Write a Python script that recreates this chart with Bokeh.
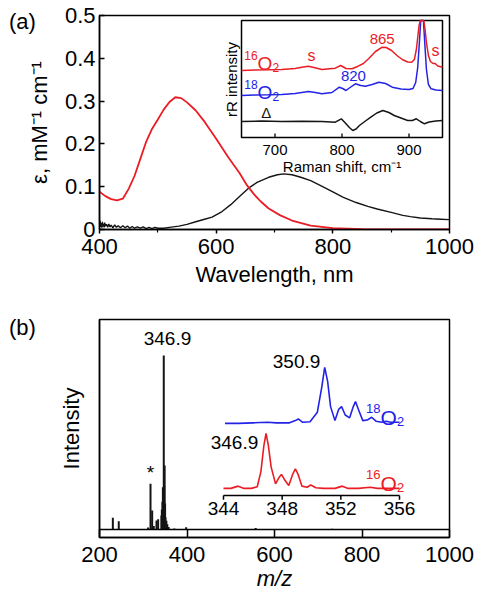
from bokeh.plotting import figure
from bokeh.models import Range1d, FixedTicker, Span, Div
from bokeh.layouts import column, row
from bokeh.embed import file_html
from bokeh.resources import INLINE
from bokeh.core.properties import value
import math

FONT = "Liberation Sans"
RED = "#ea1c24"
BLUE = "#2323e6"
BLACK = "#151515"

# ---------------- panel (a): absorption spectra ----------------
wl_red = [400, 410, 420, 430, 440, 450, 460, 470, 480, 490, 500, 510, 520, 530, 540, 550,
          565, 580, 600, 621, 640, 653, 665, 676, 690, 710, 730, 762, 800, 850, 900, 1000]
eps_red = [0.088, 0.078, 0.071, 0.068, 0.072, 0.095, 0.125, 0.165, 0.205, 0.235, 0.257, 0.280,
           0.298, 0.309, 0.307, 0.297, 0.278, 0.252, 0.212, 0.168, 0.132, 0.103, 0.082, 0.066,
           0.049, 0.033, 0.021, 0.009, 0.003, 0.001, 0.0, 0.0]
wl_black = [400, 401, 402, 403, 404, 405, 406, 407, 408, 409, 410, 412, 414, 416, 418, 420, 423,
            426, 429, 432, 436, 440, 444, 448, 452, 456, 460, 465, 470, 475, 480, 485, 490, 495,
            500, 510, 520, 536, 550, 565, 580, 593, 610, 625, 640, 655, 670, 690, 705, 716, 730,
            745, 762, 780, 800, 818, 840, 860, 876, 900, 920, 933, 950, 970, 985, 1000]
eps_black = [0.010, 0.021, 0.006, 0.015, 0.004, 0.018, 0.007, 0.013, 0.005, 0.016, 0.008, 0.012,
             0.005, 0.013, 0.006, 0.010, 0.004, 0.011, 0.005, 0.009, 0.004, 0.009, 0.004, 0.008,
             0.003, 0.007, 0.003, 0.006, 0.003, 0.006, 0.002, 0.005, 0.002, 0.005, 0.003, 0.003,
             0.005, 0.008, 0.012, 0.018, 0.024, 0.029, 0.042, 0.058, 0.077, 0.096, 0.110, 0.122,
             0.128, 0.130, 0.128, 0.122, 0.114, 0.102, 0.088, 0.075, 0.063, 0.054, 0.048, 0.040,
             0.033, 0.030, 0.027, 0.025, 0.024, 0.023]
a_xticks = [400, 600, 800, 1000]
a_xminor = [500, 700, 900]
a_yticks = [0, 0.1, 0.2, 0.3, 0.4, 0.5]

# inset (a): resonance Raman
ram16_x = [650, 670, 690, 710, 730, 742, 750, 758, 770, 790, 798, 806, 815, 824, 832, 840, 850,
           860, 866, 874, 882, 890, 898, 904, 908, 911, 913, 915, 917, 922, 924, 926, 929, 932,
           936, 939, 943, 950]
ram16_y = [67, 67.5, 67.7, 68, 69, 70.5, 71.3, 70, 68, 69.3, 72, 69, 68.7, 71.3, 74, 79, 86,
           90.3, 90, 87, 82, 78, 75.5, 75.3, 78, 88, 100, 112, 117, 117, 108, 95, 82, 76, 74,
           74, 71.5, 70.3]
ram18_x = [650, 670, 690, 710, 730, 750, 760, 770, 785, 796, 801, 806, 812, 820, 828, 835, 845,
           855, 865, 875, 888, 900, 906, 910, 913, 915.5, 917.5, 921.5, 923.5, 926, 929, 933,
           940, 950]
ram18_y = [42, 42.5, 42.7, 43, 44, 46, 45, 43.7, 45, 50.3, 49, 47, 50, 53.7, 52, 51.3, 53, 55.3,
           54, 50.3, 48.5, 48, 49, 55, 70, 95, 117, 117, 95, 68, 53, 48.7, 47.5, 47]
ramd_x = [650, 680, 710, 740, 770, 790, 799, 806, 811, 816, 821, 826, 835, 843, 852, 861, 870,
          878, 888, 898, 905, 911, 917, 923, 930, 940, 950]
ramd_y = [16, 16.5, 16, 16.3, 16, 15.3, 18.7, 13.7, 10, 7, 8.5, 12, 16.5, 20.3, 24.5, 27, 25,
          22, 19.5, 17, 17, 18.7, 16, 13.7, 15.5, 16.5, 17]
ram_ticks = [700, 800, 900]

# ---------------- panel (b): mass spectrum ----------------
ms_mz = [230.5, 244, 311, 316.6, 320.4, 324, 330.3, 334, 341.5, 342.5, 343.8, 344.9, 345.9,
         346.9, 347.9, 348.9, 349.9, 350.9, 352.9, 355, 358, 371, 398, 557, 732]
ms_int = [0.067, 0.048, 0.012, 0.263, 0.109, 0.02, 0.052, 0.059, 0.08, 0.115, 0.16, 0.243,
          0.2, 1.0, 0.25, 0.368, 0.15, 0.07, 0.05, 0.03, 0.015, 0.006, 0.013, 0.008, 0.004]
b_xticks = [200, 400, 600, 800, 1000]

red_mz = [344.0, 344.5, 345.0, 345.4, 345.9, 346.3, 346.55, 346.75, 346.9, 347.05, 347.25,
          347.55, 347.8, 347.95, 348.15, 348.45, 348.7, 348.9, 349.1, 349.35, 349.7, 349.95,
          350.3, 350.8, 351.6, 352.1, 352.5, 353.2, 354.0, 354.5, 355.2, 356.0]
red_int = [0.02, 0.02, 0.06, 0.02, 0.02, 0.05, 0.32, 0.78, 1.0, 0.8, 0.4, 0.1, 0.22, 0.27, 0.18,
           0.07, 0.26, 0.37, 0.26, 0.06, 0.04, 0.08, 0.03, 0.02, 0.02, 0.06, 0.02, 0.02, 0.04,
           0.02, 0.02, 0.02]
blue_mz = [344.1, 345.0, 346.0, 347.0, 347.6, 348.5, 348.9, 349.1, 349.4, 349.9, 350.4, 350.7,
           350.9, 351.1, 351.3, 351.6, 351.85, 352.05, 352.3, 352.6, 352.85, 353.0, 353.2, 353.5,
           353.8, 354.1, 354.4, 354.8, 355.1, 355.4, 356.0]
blue_int = [0.0, 0.0, 0.01, 0.02, 0.01, 0.01, 0.05, 0.08, 0.02, 0.03, 0.2, 0.65, 1.0, 0.75, 0.3,
            0.05, 0.25, 0.3, 0.15, 0.1, 0.3, 0.39, 0.25, 0.05, 0.06, 0.11, 0.04, 0.02, 0.04,
            0.02, 0.02]
ins_b_ticks = [344, 348, 352, 356]
BLUE_OFFSET = 1.18

LABEL_W = 40  # width of the box holding "(a)" / "(b)", overlapped by the figure


def mapped_range(d0, p0, d1, p1, f_lo, f_hi):
    """Range whose ends sit at frame pixels f_lo/f_hi so that d0->p0 and d1->p1."""
    s = (p1 - p0) / (d1 - d0)
    return Range1d(d0 + (f_lo - p0) / s, d0 + (f_hi - p0) / s)


def style(p):
    p.background_fill_color = "white"
    p.border_fill_color = "white"
    p.border_fill_alpha = 0
    p.outline_line_color = "black"
    p.outline_line_width = 1.5
    p.xgrid.visible = False
    p.ygrid.visible = False
    p.margin = (0, 0, 0, -LABEL_W)
    for ax in (p.xaxis[0], p.yaxis[0]):
        ax.axis_line_width = 1.5
        ax.major_tick_line_width = 1.5
        ax.minor_tick_line_width = 1.2
        ax.major_label_text_font = FONT
        ax.major_label_text_font_size = "22px"
        ax.major_label_text_color = "black"
        ax.axis_label_text_font = FONT
        ax.axis_label_text_font_size = "22px"
        ax.axis_label_text_font_style = "normal"
        ax.axis_label_text_color = "black"


def txt(p, x, y, s, size, color="black", align="center", baseline="middle", xr="default",
        yr="default", angle=0.0, xo=0, yo=0, style_="normal"):
    p.text(x=[x], y=[y], text=[s], text_font=value(FONT), text_font_size=size,
           text_color=color, text_align=align, text_baseline=baseline, angle=angle,
           x_offset=xo, y_offset=yo, text_font_style=style_,
           x_range_name=xr, y_range_name=yr)


def iso(p, x, y, mass, color, big, small, xr, yr):
    # x,y = left edge / baseline of "O"
    txt(p, x, y, mass, f"{small}px", color, "right", "alphabetic", xr, yr, yo=-0.40 * big)
    txt(p, x, y, "O", f"{big}px", color, "left", "alphabetic", xr, yr)
    txt(p, x, y, "2", f"{small}px", color, "left", "alphabetic", xr, yr,
        xo=0.79 * big, yo=0.22 * big)


def panel_div(s, h, pad_top):
    return Div(text=s, width=LABEL_W, height=h, margin=0,
               styles={"font-family": FONT, "font-size": "22px", "color": "black",
                       "padding-left": "9px", "padding-top": f"{pad_top}px",
                       "line-height": "25px", "box-sizing": "border-box",
                       "white-space": "nowrap"})


# ======== panel (a) ========  (page px: frame 99..449 x 15..229)
pa = figure(width=480, height=300, x_range=Range1d(400, 1000),
            y_range=Range1d(0, 0.5), output_backend="svg", toolbar_location=None,
            min_border_left=99, min_border_right=31, min_border_top=15,
            min_border_bottom=71)
style(pa)
pa.xaxis.ticker = FixedTicker(ticks=a_xticks, minor_ticks=a_xminor)
pa.yaxis.ticker = FixedTicker(ticks=a_yticks)
pa.yaxis.major_label_overrides = {0: "0"}
pa.xaxis.axis_label = "Wavelength, nm"
pa.yaxis.axis_label = "ε, mM⁻¹ cm⁻¹"
pa.xaxis.major_tick_out = 4
pa.xaxis.major_tick_in = 0
pa.xaxis.minor_tick_out = 3
pa.xaxis.minor_tick_in = 0
pa.xaxis.major_label_standoff = 5
pa.xaxis.axis_label_standoff = 5
pa.yaxis.major_tick_out = 0
pa.yaxis.major_tick_in = 5
pa.yaxis.minor_tick_out = 0
pa.yaxis.minor_tick_in = 0
pa.yaxis.major_label_standoff = 4
pa.yaxis.axis_label_standoff = 10

pa.line(wl_black, eps_black, line_color=BLACK, line_width=1.4)
pa.line(wl_red, eps_red, line_color=RED, line_width=1.8)

# inset (a) coordinate system (box at page px 241..442 x 20..137)
pa.extra_x_ranges = {"iax": mapped_range(650, 241, 950, 442, 99, 449)}
pa.extra_y_ranges = {"iay": mapped_range(0, 137, 117, 20, 229, 15)}
IA = dict(x_range_name="iax", y_range_name="iay")
pa.quad(left=[650], right=[950], bottom=[0], top=[117], fill_color="white",
        line_color="black", line_width=1.5, **IA)
pa.segment(x0=ram_ticks, y0=[0] * 3, x1=ram_ticks, y1=[4] * 3, line_color="black",
           line_width=1.3, **IA)
pa.line(ramd_x, ramd_y, line_color=BLACK, line_width=1.5, **IA)
pa.line(ram18_x, ram18_y, line_color=BLUE, line_width=1.5, **IA)
pa.line(ram16_x, ram16_y, line_color=RED, line_width=1.5, **IA)
for t in ram_ticks:
    txt(pa, t, -7, str(t), "15px", "black", "center", "top", "iax", "iay")
txt(pa, 800, -20, "Raman shift, cm⁻¹", "15px", "black", "center", "top", "iax", "iay")
txt(pa, 635, 58, "rR intensity", "15px", "black", "center", "middle", "iax", "iay",
    angle=math.pi / 2)
iso(pa, 674, 74, "16", RED, 19, 12, "iax", "iay")
iso(pa, 674, 45.5, "18", BLUE, 19, 12, "iax", "iay")
txt(pa, 754.5, 82, "s", "16px", RED, xr="iax", yr="iay")
txt(pa, 939.5, 87, "s", "16px", RED, xr="iax", yr="iay")
txt(pa, 860, 99, "865", "15px", RED, xr="iax", yr="iay")
txt(pa, 817, 62, "820", "15px", BLUE, xr="iax", yr="iay")
txt(pa, 687, 25.3, "Δ", "15px", BLACK, xr="iax", yr="iay")

# ======== panel (b) ========  (page px: frame 99..449 x 319..537)
pb = figure(width=480, height=298, x_range=Range1d(200, 1000),
            y_range=Range1d(-0.046, 1.207), output_backend="svg", toolbar_location=None,
            min_border_left=99, min_border_right=31, min_border_top=19,
            min_border_bottom=61)
style(pb)
pb.xaxis.ticker = FixedTicker(ticks=b_xticks)
pb.yaxis.ticker = FixedTicker(ticks=[])
pb.xaxis.axis_label = "m/z"
pb.xaxis.axis_label_text_font_style = "italic"
pb.xaxis.major_tick_out = 0
pb.xaxis.major_tick_in = 8
pb.xaxis.minor_tick_out = 0
pb.xaxis.minor_tick_in = 0
pb.xaxis.major_label_standoff = 9
pb.xaxis.axis_label_standoff = 1
pb.yaxis.axis_label = "Intensity"
pb.yaxis.major_tick_out = 0
pb.yaxis.major_tick_in = 0
pb.yaxis.minor_tick_out = 0
pb.yaxis.minor_tick_in = 0
pb.yaxis.major_label_text_font_size = "0px"
pb.yaxis.major_label_standoff = 0
pb.yaxis.axis_label_standoff = 16

pb.add_layout(Span(location=0, dimension="width", line_color="black", line_width=1.5))
pb.segment(x0=ms_mz, y0=[0] * len(ms_mz), x1=ms_mz, y1=ms_int, line_color=BLACK,
           line_width=2)
txt(pb, 355.4, 1.098, "346.9", "19px")
txt(pb, 316.6, 0.328, "*", "19px")

# inset (b) coordinate system
pb.extra_x_ranges = {"ibx": mapped_range(344, 223, 356, 399, 99, 449)}
pb.extra_y_ranges = {"iby": mapped_range(0, 489, 1, 433, 537, 319)}
IB = dict(x_range_name="ibx", y_range_name="iby")
AXY = -0.107
pb.segment(x0=[344], y0=[AXY], x1=[356], y1=[AXY], line_color="black", line_width=1.5, **IB)
pb.segment(x0=ins_b_ticks, y0=[AXY] * 4, x1=ins_b_ticks, y1=[AXY - 0.075] * 4,
           line_color="black", line_width=1.5, **IB)
for t in ins_b_ticks:
    txt(pb, t, AXY - 0.12, str(t), "19px", "black", "center", "top", "ibx", "iby")
pb.line(red_mz, red_int, line_color=RED, line_width=1.6, **IB)
pb.line(blue_mz, [v + BLUE_OFFSET for v in blue_int], line_color=BLUE, line_width=1.6, **IB)
txt(pb, 348.98, 2.286, "350.9", "19px", xr="ibx", yr="iby")
txt(pb, 344.75, 0.84, "346.9", "19px", xr="ibx", yr="iby")
iso(pb, 354.7, 1.29, "18", BLUE, 21, 13, "ibx", "iby")
iso(pb, 354.7, 0.11, "16", RED, 21, 13, "ibx", "iby")

layout = column(row(panel_div("(a)", 300, 9), pa, spacing=0),
                row(panel_div("(b)", 298, 15), pb, spacing=0), spacing=0)
open("out.html", "w").write(file_html(layout, INLINE))
